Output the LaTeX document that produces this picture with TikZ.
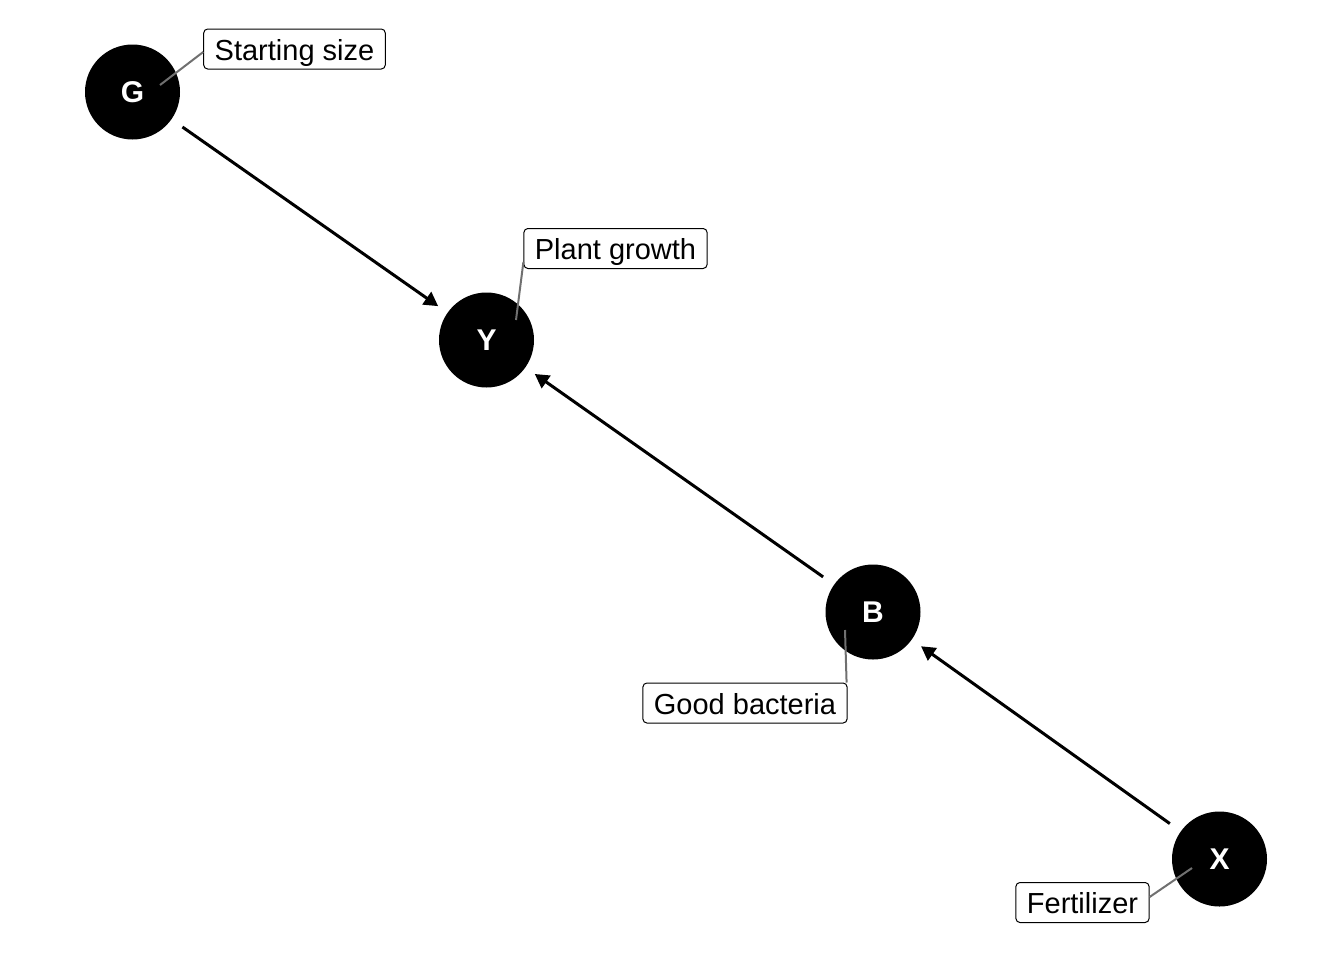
\documentclass[tikz,border=0pt]{standalone}
\usepackage{fontspec}
\setmainfont{Liberation Sans}
\usetikzlibrary{arrows.meta}
\definecolor{leadgray}{RGB}{112,112,112}

\begin{document}
\begin{tikzpicture}[x=0.5pt, y=-0.5pt,
  var/.style={circle, fill=black, inner sep=0pt, outer sep=0pt, minimum size=47.5pt, text=white, font=\fontsize{15}{18}\selectfont\bfseries},
  lab/.style={draw=black, line width=0.5pt, rounded corners=2pt, fill=white, inner xsep=5.5pt, inner ysep=3.25pt, text height=12.25pt, text depth=1.25pt, font=\fontsize{14.5}{17}\selectfont},
  edge/.style={line width=1.5pt, -{Triangle[length=7pt, width=7.5pt]}, shorten <=6.75pt, shorten >=5.75pt},
  lead/.style={draw=leadgray, line width=1pt}]
\useasboundingbox (0,0) rectangle (1344,960);
\node[var] (vid0) at (132.5,92){G};
\node[var] (vid1) at (486.5,340){Y};
\node[var] (vid2) at (873,612){B};
\node[var] (vid3) at (1219.5,859){X};
\draw[edge](vid0) -- (vid1);
\draw[edge](vid2) -- (vid1);
\draw[edge](vid3) -- (vid2);

\node[lab] (lab0) at (294.5,49){Starting size};
\node[lab] (lab1) at (615.5,248.5){Plant growth};
\node[lab] (lab2) at (745,703){Good bacteria};
\node[lab] (lab3) at (1082.5,902.5){Fertilizer};
\coordinate (pin0) at (160,85);
\coordinate (pin1) at (516,320);
\coordinate (pin2) at (845,630);
\coordinate (pin3) at (1192,868);
\draw[lead](pin0) -- ([yshift=-1.5pt]lab0.west);
\draw[lead](pin1) -- ([yshift=-6.75pt]lab1.west);
\draw[lead](pin2) -- ([xshift=-0.5pt]lab2.north east);
\draw[lead](pin3) -- ([yshift=2.75pt]lab3.east);

\end{tikzpicture}
\end{document}
